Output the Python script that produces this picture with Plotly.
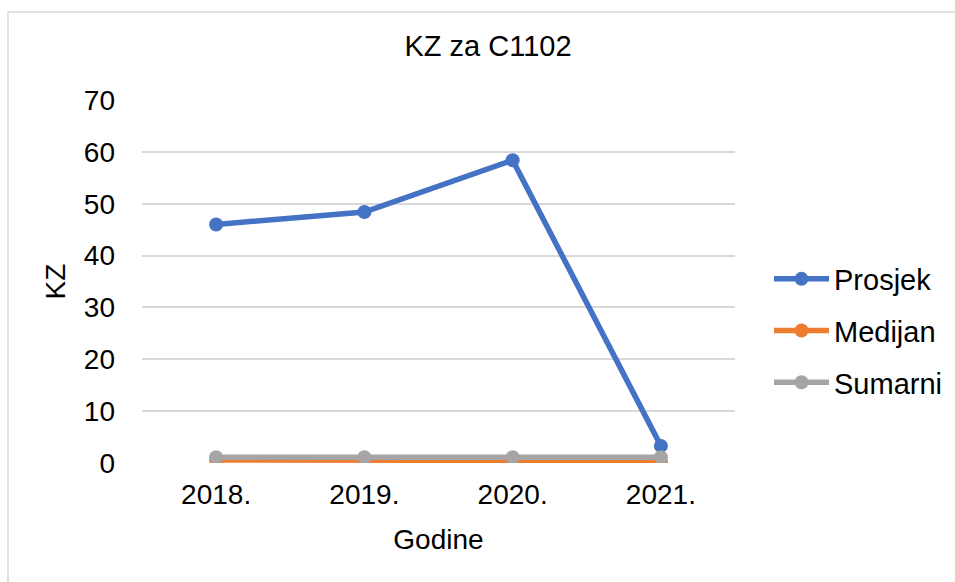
import plotly.graph_objects as go

# Data
years = ["2018.", "2019.", "2020.", "2021."]
prosjek = [46.0, 48.4, 58.4, 3.3]
medijan = [0.6, 0.55, 0.5, 0.15]
sumarni = [1.1, 1.1, 1.1, 1.1]

series = [
    ("Prosjek", prosjek, "#4472C4"),
    ("Medijan", medijan, "#ED7D31"),
    ("Sumarni", sumarni, "#A5A5A5"),
]

fig = go.Figure()
for name, vals, color in series:
    fig.add_trace(go.Scatter(
        x=years, y=vals, name=name, mode="lines+markers", legendgroup=name,
        line=dict(color=color, width=5.5),
        marker=dict(color=color, size=14),
    ))

# plot area is 142..735 px wide, 100..463 px tall
L, R, T, B = 142, 220, 100, 119
W, H = 955, 582
pw, ph = W - L - R, H - T - B

fig.update_layout(
    width=W, height=H,
    margin=dict(l=L, r=R, t=T, b=B, autoexpand=False),
    paper_bgcolor="white", plot_bgcolor="white",
    font=dict(family="Liberation Sans, Arial", size=28, color="#000000"),
    title=dict(text="KZ za C1102", x=488 / W, xanchor="center",
               y=1 - 46 / H, yanchor="middle", font=dict(size=29)),
    showlegend=True,
    legend=dict(x=(769 - L) / pw, xanchor="left", y=(H - B - 331) / ph,
                yanchor="middle",
                font=dict(size=29), itemwidth=55, tracegroupgap=11,
                bgcolor="rgba(0,0,0,0)"),
    xaxis=dict(
        type="category", range=[-0.5, 3.5], showgrid=False, zeroline=False,
        showline=False, ticks="", ticklabelstandoff=12,
        title=dict(text="Godine", standoff=20, font=dict(size=28)),
    ),
    yaxis=dict(
        range=[0, 70], dtick=10, showgrid=True, gridcolor="#D9D9D9",
        gridwidth=1.5, zeroline=False, showline=False, ticks="",
        ticklabelstandoff=26,
        title=dict(text="KZ", standoff=10, font=dict(size=28)),
    ),
    shapes=[
        dict(type="line", xref="paper", yref="paper",
             x0=(8 - L) / pw, x1=(W + 20 - L) / pw,
             y0=(H - B - 12) / ph, y1=(H - B - 12) / ph,
             line=dict(color="#D9D9D9", width=1.5)),
        dict(type="line", xref="paper", yref="paper",
             x0=(8 - L) / pw, x1=(8 - L) / pw,
             y0=(H - B - 12) / ph, y1=-(B + 20) / ph,
             line=dict(color="#D9D9D9", width=1.5)),
    ],
)

fig.write_html("out.html", config={"displayModeBar": False},
               post_script="document.body.style.margin='0';")
